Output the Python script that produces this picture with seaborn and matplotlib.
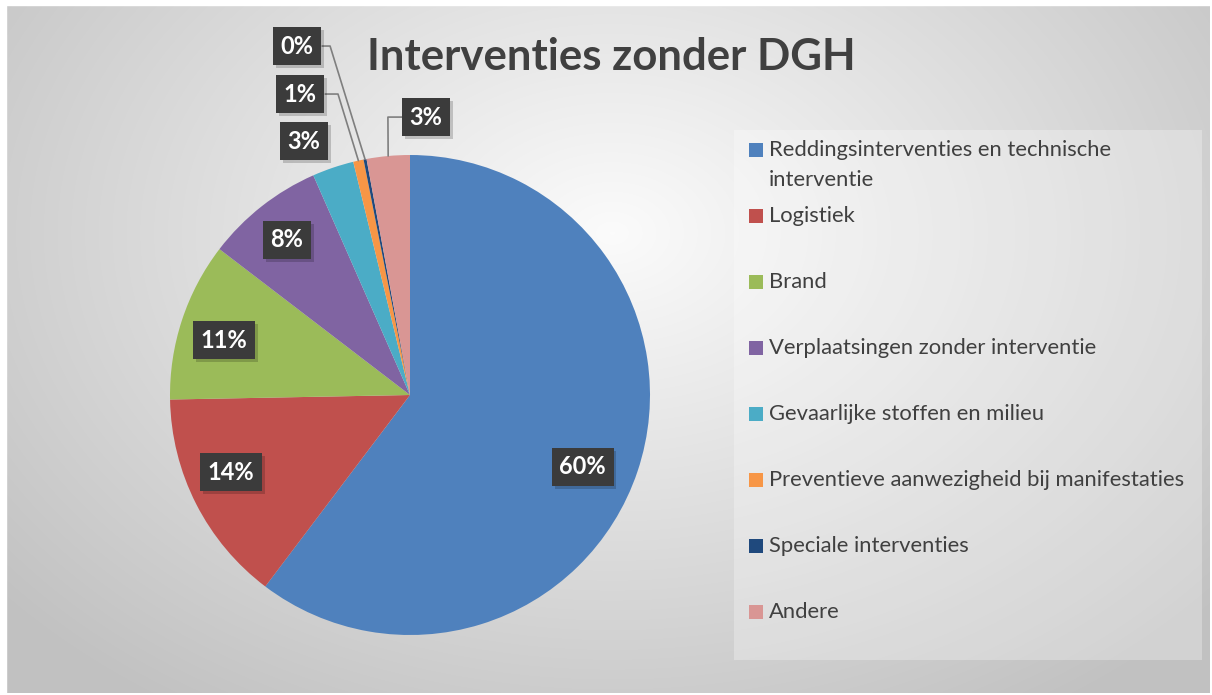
import numpy as np
import matplotlib
matplotlib.use("Agg")
import matplotlib.pyplot as plt
import matplotlib.patheffects as pe
from matplotlib.patches import Rectangle
import seaborn as sns

# ---- data ----
categories = [
    "Reddingsinterventies en technische\ninterventie",
    "Logistiek",
    "Brand",
    "Verplaatsingen zonder interventie",
    "Gevaarlijke stoffen en milieu",
    "Preventieve aanwezigheid bij manifestaties",
    "Speciale interventies",
    "Andere",
]
values = [60.3, 14.4, 10.7, 8.0, 2.8, 0.7, 0.2, 2.9]
colors = ["#4F81BD", "#C0504D", "#9BBB59", "#8064A2",
          "#4BACC6", "#F79646", "#1F497D", "#D99694"]
title = "Interventies zonder DGH"

# label layout (data coords of pie with radius 1) and leader elbows
label_pos = [(0.72, -0.30), (-0.746, -0.321), (-0.775, 0.229), (-0.5125, 0.646),
             (-0.442, 1.058), (-0.458, 1.254), (-0.471, 1.454), (0.067, 1.158)]
leader = [None, None, None, None, None, ("r", -0.30), ("r", -0.333), ("l", -0.092)]

sns.set_theme(style="white")
plt.rcParams["font.family"] = ["Lato", "DejaVu Sans"]

W, H = 1212, 695
fig = plt.figure(figsize=(W / 100, H / 100), dpi=100)

# background gradient
bg = fig.add_axes([0, 0, 1, 1])
bg.set_xlim(0, W); bg.set_ylim(H, 0); bg.axis("off")
yy, xx = np.mgrid[0:H, 0:W]
d = np.sqrt(((xx - 610) / 780.0) ** 2 + ((yy - 230) / 560.0) ** 2)
g = np.clip(0.985 - 0.22 * d, 0.76, 1.0)
img = np.dstack([g, g, g])
bg.imshow(img, extent=[6, W - 2, H - 2, 5], aspect="auto", zorder=0)
bg.add_patch(Rectangle((0, 0), W, 5, color="white", zorder=1))
bg.add_patch(Rectangle((0, 0), 6, H, color="white", zorder=1))

# legend panel
bg.add_patch(Rectangle((734, 130), 468, 530, facecolor="white", alpha=0.28,
                       edgecolor="none", zorder=2))

# title
fig.text(611 / W, 1 - 57 / H, title, ha="center", va="center",
         fontsize=31.5, fontweight="bold", color="#404040")

# pie
cx, cy, r = 410, 395, 240
ax = fig.add_axes([(cx - r) / W, (H - cy - r) / H, 2 * r / W, 2 * r / H])
wedges, _ = ax.pie(values, colors=colors, startangle=90, counterclock=False,
                   radius=1, wedgeprops=dict(linewidth=0))
ax.set_xlim(-1, 1); ax.set_ylim(-1, 1)
ax.set_aspect("equal")
ax.axis("off")

cum = np.cumsum([0] + values)
total = cum[-1]
for i, v in enumerate(values):
    lx, ly = label_pos[i]
    t = ax.text(lx, ly, f"{v:.0f}%", ha="center", va="center", color="white",
                fontsize=17, fontweight="bold", clip_on=False, zorder=5,
                bbox=dict(boxstyle="square,pad=0.32", facecolor="#3b3b3b",
                          edgecolor="none"))
    t.get_bbox_patch().set_path_effects([
        pe.SimplePatchShadow(offset=(2, -2), shadow_rgbFace="#000000", alpha=0.18),
        pe.Normal()])
    if leader[i] is not None:
        side, ex = leader[i]
        mid = (cum[i] + v / 2) / total
        ang = np.deg2rad(90 - 360 * mid)
        px, py = np.cos(ang), np.sin(ang)
        bx = lx + (0.105 if side == "r" else -0.10)
        ax.plot([bx, ex, px], [ly, ly, py], color="#7f7f7f", lw=1.2,
                clip_on=False, zorder=4)

# legend (drawn manually)
y0, step = 150, 66
for i, (lab, c) in enumerate(zip(categories, colors)):
    y = y0 + i * step
    bg.add_patch(Rectangle((749, y - 7), 14, 14, facecolor=c, edgecolor="none", zorder=3))
    for j, ln in enumerate(lab.split("\n")):
        bg.text(769, y + j * 30, ln, ha="left", va="center", fontsize=15.8,
                color="#404040", zorder=3)

fig.savefig("out.png", dpi=100)
